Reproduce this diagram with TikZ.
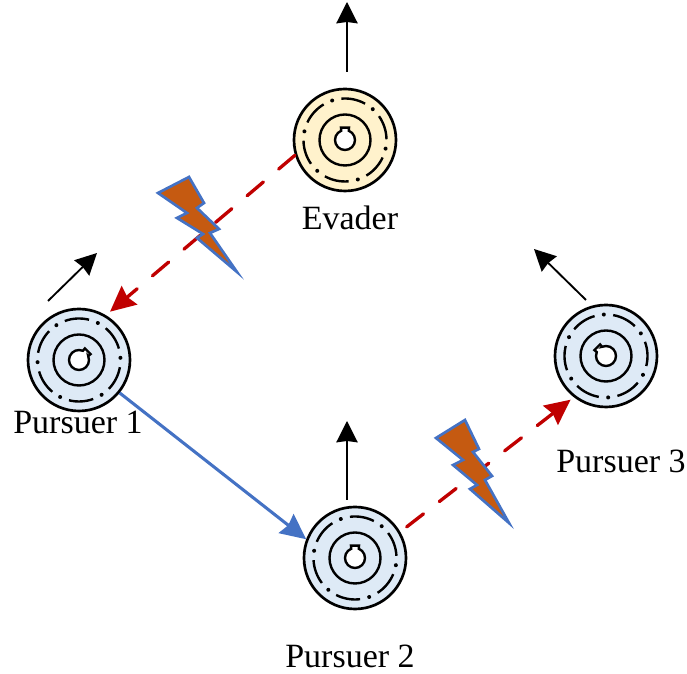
\documentclass[tikz,border=0pt]{standalone}
\usepackage{fontspec}
\setmainfont{Liberation Serif}
\usetikzlibrary{arrows.meta}

\definecolor{bluedisc}{HTML}{DEEAF6}
\definecolor{yellowdisc}{HTML}{FFF2CC}
\definecolor{linkred}{HTML}{C00000}
\definecolor{linkblue}{HTML}{4472C4}
\definecolor{boltfill}{HTML}{C55A11}

\tikzset{
    disc/.style={circle, draw, line width=2pt, minimum size=76.5pt, inner sep=0pt},
    ring/.style={line width=1.8pt},
    label/.style={font=\fontsize{25.5}{30}\selectfont, inner sep=0pt},
    heading/.style={line width=1.4pt, -{Stealth[length=16pt, width=16pt, inset=1pt]}},
    jam/.style={line width=2.5pt, linkred, dash pattern=on 16pt off 15pt, line cap=round, -{Stealth[length=19pt, width=18pt, inset=2pt]}},
    link/.style={line width=2.3pt, linkblue, -{Stealth[length=19pt, width=18pt, inset=2pt]}},
    bolt/.style={draw=linkblue, fill=boltfill, line width=2pt, miter limit=10}
}

% name, position, fill, rotation of the pattern, rotation of the notch
\newcommand{\wheel}[5]{
    \node[disc, fill=#3] (#1) at #2 {};
    \begin{scope}[shift={#2}, rotate=#4]
        \foreach \a in {0,60,...,300} {
            \draw[ring] (\a+13:41.5) arc (\a+13:\a+47:41.5);
            \fill (\a:41.5) circle (2);
        }
    \end{scope}
    \begin{scope}[shift={#2}, rotate=#5]
        \draw[ring] (0,0) circle (25.5);
        \draw[ring, fill=white] (68:10) -- (72:13) -- (108:13) -- (112:10) arc (112:428:10) -- cycle;
    \end{scope}
}

\begin{document}
\begin{tikzpicture}[x=0.75pt, y=0.75pt]
\useasboundingbox (0,0) rectangle (687,674);

% ===== Discs =====
\wheel{evader}{(345,534)}{yellowdisc}{-12}{0}
\wheel{pursuerA}{(79,314)}{bluedisc}{3}{-45}
\wheel{pursuerB}{(355,116)}{bluedisc}{-10}{0}
\wheel{pursuerC}{(606,318)}{bluedisc}{33}{45}

\node[label] (evaderlabel) at (350,456) {Evader};
\node[label] (pursuerAlabel) at (78,252) {Pursuer 1};
\node[label] (pursuerBlabel) at (350,18) {Pursuer 2};
\node[label] (pursuerClabel) at (621,213) {Pursuer 3};

% ===== Headings =====
\coordinate (evadertip) at (347,672);
\coordinate (evadertail) at (347,602);
\coordinate (pursuerAtip) at (97,421);
\coordinate (pursuerAtail) at (48,373);
\coordinate (pursuerBtip) at (347,253);
\coordinate (pursuerBtail) at (347,174);
\coordinate (pursuerCtip) at (534,425);
\coordinate (pursuerCtail) at (586,374);
\draw[heading] (evadertail) -- (evadertip);
\draw[heading] (pursuerAtail) -- (pursuerAtip);
\draw[heading] (pursuerBtail) -- (pursuerBtip);
\draw[heading] (pursuerCtail) -- (pursuerCtip);

% ===== Links =====
\draw[jam, shorten >=4pt] (evader.197) -- (pursuerA.59);
\draw[link] (pursuerA.-39) -- (pursuerB.159);
\draw[jam, shorten <=6pt, shorten >=3pt] (pursuerB.30) -- (pursuerC.232);

% ===== Bolts =====
\draw[bolt] (158,481) -- (189,497) -- (204,471) -- (197,466) -- (219,445) -- (210,441) -- (237,402) -- (197,436) -- (203,440) -- (177,456) -- (187,461) -- cycle;
\draw[bolt] (436,236) -- (465,254) -- (479,225) -- (473,222) -- (492,198) -- (485,194) -- (509,151) -- (470,185) -- (477,189) -- (453,209) -- (463,214) -- cycle;

\end{tikzpicture}
\end{document}
